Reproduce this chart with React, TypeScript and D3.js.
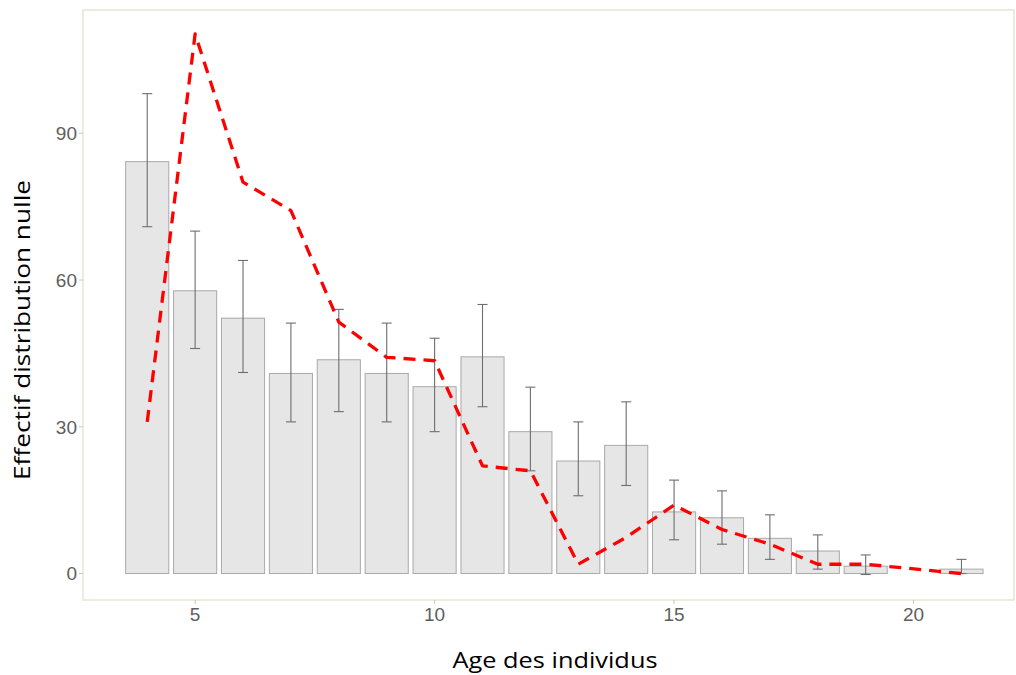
import React from "react";
import * as d3 from "d3";

const ages = [4, 5, 6, 7, 8, 9, 10, 11, 12, 13, 14, 15, 16, 17, 18, 19, 21];
const barValues = [84.2, 57.8, 52.2, 40.9, 43.7, 40.9, 38.2, 44.3, 29.0, 23.0, 26.2, 12.6, 11.4, 7.2, 4.6, 1.5, 0.9];
const errLow = [70.9, 46.0, 41.1, 31.0, 33.1, 31.0, 29.0, 34.1, 21.0, 15.9, 18.0, 6.9, 6.0, 2.9, 0.9, -0.2, 0];
const errHigh = [98.1, 70.0, 64.0, 51.2, 54.0, 51.2, 48.1, 55.0, 38.1, 31.0, 35.1, 19.1, 16.9, 12.0, 7.9, 3.8, 2.9];
const expected = [31, 110.3, 80, 74.2, 51.4, 44.2, 43.5, 22, 21, 1.9, 7.4, 14, 9, 6, 1.9, 1.9, 0];
const xTicks = [5, 10, 15, 20];
const yTicks = [0, 30, 60, 90];
const xTitle = "Age des individus";
const yTitle = "Effectif distribution nulle";

const W = 1016;
const H = 675;
const panel = { left: 83, top: 10, right: 1014, bottom: 600 };

export default function App() {
  const x = d3.scaleLinear().domain([2.655, 22.345]).range([82.8, 1025.9]);
  const y = d3.scaleLinear().domain([-5.41, 115.2]).range([panel.bottom, panel.top]);
  const bw = x(0.9) - x(0);
  const capW = 10;
  const line = d3
    .line<number>()
    .x((_, i) => x(ages[i]))
    .y((d) => y(d));

  return (
    <svg
      width={W}
      height={H}
      style={{ position: "absolute", left: 0, top: 0, background: "#fff" }}
    >
      <rect x={0} y={0} width={W} height={H} fill="#fff" />
      <rect
        x={panel.left}
        y={panel.top}
        width={panel.right - panel.left}
        height={panel.bottom - panel.top}
        fill="none"
        stroke="#ecebdd"
        strokeWidth={2}
      />
      {yTicks.map((t) => (
        <g key={"y" + t}>
          <line x1={panel.left - 4} x2={panel.left} y1={y(t)} y2={y(t)} stroke="#c8c8c0" strokeWidth={1} />
          <text
            x={panel.left - 6}
            y={y(t)}
            dy="0.36em"
            textAnchor="end"
            fontFamily="'Liberation Sans', Arial, sans-serif"
            fontSize={19}
            fill="#5e5e5e"
          >
            {t}
          </text>
        </g>
      ))}
      {xTicks.map((t) => (
        <g key={"x" + t}>
          <line x1={x(t)} x2={x(t)} y1={panel.bottom} y2={panel.bottom + 4} stroke="#c8c8c0" strokeWidth={1} />
          <text
            x={x(t)}
            y={panel.bottom + 14}
            dy="0.36em"
            textAnchor="middle"
            fontFamily="'Liberation Sans', Arial, sans-serif"
            fontSize={19}
            fill="#5e5e5e"
          >
            {t}
          </text>
        </g>
      ))}
      {ages.map((a, i) => (
        <rect
          key={"b" + a}
          x={x(a) - bw / 2}
          y={y(barValues[i])}
          width={bw}
          height={y(0) - y(barValues[i])}
          fill="#e6e6e6"
          stroke="#a9a9a9"
          strokeWidth={1}
        />
      ))}
      {ages.map((a, i) => (
        <g key={"e" + a} stroke="#6e6e6e" strokeWidth={1.1}>
          <line x1={x(a)} x2={x(a)} y1={y(errLow[i])} y2={y(errHigh[i])} />
          <line x1={x(a) - capW / 2} x2={x(a) + capW / 2} y1={y(errLow[i])} y2={y(errLow[i])} />
          <line x1={x(a) - capW / 2} x2={x(a) + capW / 2} y1={y(errHigh[i])} y2={y(errHigh[i])} />
        </g>
      ))}
      <path
        d={line(expected) || ""}
        fill="none"
        stroke="#ff0000"
        strokeWidth={3.3}
        strokeDasharray="12,8"
        strokeLinejoin="round"
      />
      <text
        x={555}
        y={668}
        textAnchor="middle"
        fontFamily="'Open Sans', 'Noto Sans', sans-serif"
        fontSize={22}
        fill="#000"
        textLength={205}
        lengthAdjust="spacingAndGlyphs"
      >
        {xTitle}
      </text>
      <text
        transform={`translate(30, 330) rotate(-90)`}
        textAnchor="middle"
        fontFamily="'Open Sans', 'Noto Sans', sans-serif"
        fontSize={22}
        fill="#000"
        textLength={300}
        lengthAdjust="spacingAndGlyphs"
      >
        {yTitle}
      </text>
    </svg>
  );
}
